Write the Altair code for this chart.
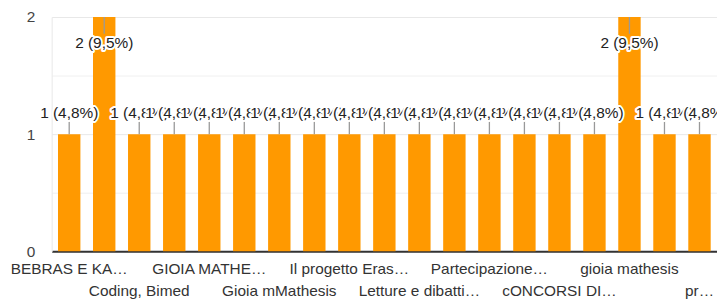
import altair as alt
import pandas as pd

# ---- data ----
values = [1, 2, 1, 1, 1, 1, 1, 1, 1, 1, 1, 1, 1, 1, 1, 1, 2, 1, 1]
shown_labels = [
    "BEBRAS E KA…", "Coding, Bimed", "GIOIA MATHE…", "Gioia mMathesis",
    "Il progetto Eras…", "Letture e dibatti…", "Partecipazione…",
    "cONCORSI DI…", "gioia mathesis", "pr…",
]
y_ticks = [0, 0.5, 1, 1.5, 2]

total = sum(values)
df = pd.DataFrame({"idx": list(range(len(values))), "value": values})
df["label"] = [f"{v} ({v / total * 100:.1f}%)".replace(".", ",") for v in values]

FONT = "Liberation Sans"
FS = 15.5

label_array = "[" + ",".join("'" + s + "'" for s in shown_labels) + "]"
x_label_expr = f"datum.value % 2 == 0 ? {label_array}[datum.value / 2] : ''"

X = alt.X(
    "idx:O",
    scale=alt.Scale(paddingInner=0.36, paddingOuter=0.18),
    axis=alt.Axis(
        title=None, labelExpr=x_label_expr, labelAngle=0, ticks=False, tickSize=0,
        labelPadding={"condition": {"test": "datum.value % 4 == 2", "value": 32}, "value": 10},
        labelBaseline="top", labelFont=FONT, labelFontSize=FS, labelColor="#333333",
        labelLimit=300, labelOverlap=False, domainColor="#333333", domainWidth=2, grid=False,
    ),
)
Y = alt.Y(
    "value:Q",
    scale=alt.Scale(domain=[0, 2], nice=False),
    axis=alt.Axis(
        title=None, values=y_ticks, ticks=False, tickSize=0, labelPadding=17,
        labelExpr="datum.value % 1 == 0 ? '' + datum.value : ''",
        labelFont=FONT, labelFontSize=FS, labelColor="#444444",
        gridColor={"condition": {"test": "datum.value % 1 == 0", "value": "#e8e8e8"}, "value": "#f0f0f0"},
        domainColor="#e8e8e8",
    ),
)

base = alt.Chart(df)

bars = base.mark_bar(color="#ff9900").encode(x=X, y=Y)
rules_low = base.transform_filter("datum.value < 2").mark_rule(
    color="#999999", strokeWidth=1.3, y2Offset=-14
).encode(x=X, y=Y, y2=alt.Y2("value:Q"))
rules_high = base.transform_filter("datum.value >= 2").mark_rule(
    color="#999999", strokeWidth=1.3, y2Offset=17
).encode(x=X, y=Y, y2=alt.Y2("value:Q"))

layers = [bars, rules_low, rules_high]
for i, v in enumerate(values):
    off = -21 if v < 2 else 26
    sub = base.transform_filter(f"datum.idx == {i}")
    halo = sub.mark_text(
        font=FONT, fontSize=FS, dy=off, fill="white", stroke="white",
        strokeWidth=4, strokeJoin="round",
    ).encode(x=X, y=Y, text="label:N")
    txt = sub.mark_text(font=FONT, fontSize=FS, dy=off, fill="#222222").encode(
        x=X, y=Y, text="label:N"
    )
    layers += [halo, txt]

chart = alt.layer(*layers).properties(
    width=670, height=236,
    autosize=alt.AutoSizeParams(type="none"),
    padding={"left": 44, "top": 8, "right": 0, "bottom": 50},
    background="white",
).configure_view(stroke=None)

chart.save("out.html", embed_options={"renderer": "svg", "actions": False})
